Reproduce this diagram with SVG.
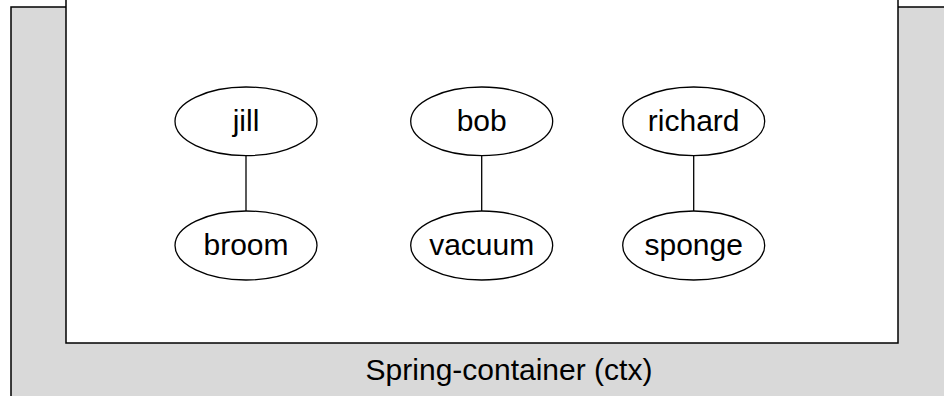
<svg xmlns="http://www.w3.org/2000/svg" width="944" height="396" viewBox="0 0 944 396">
<style>
.node ellipse{fill:#ffffff;stroke:#000000;stroke-width:1.3}
.lbl{font-family:"Liberation Sans",Arial,sans-serif;font-size:30px;fill:#000000;text-anchor:middle}
.edge{stroke:#000000;stroke-width:1.3;fill:none}
</style>
<rect width="944" height="396" fill="#ffffff"/>
<g id="container">
<rect x="11" y="7" width="980" height="420" fill="#d9d9d9" stroke="#000000" stroke-width="1.5"/>
<rect x="66" y="-10" width="832" height="353" fill="#ffffff" stroke="#000000" stroke-width="1.5"/>
<text class="lbl" x="509" y="379.5">Spring-container (ctx)</text>
</g>
<g id="connectors">
<line class="edge" x1="246" y1="155.5" x2="246" y2="211"/>
<line class="edge" x1="481.7" y1="155.5" x2="481.7" y2="211"/>
<line class="edge" x1="693.7" y1="155.5" x2="693.7" y2="211"/>
</g>
<g id="jill" class="node"><ellipse cx="246" cy="121.3" rx="71" ry="34.3"/><text class="lbl" x="246" y="131">jill</text></g>
<g id="broom" class="node"><ellipse cx="246" cy="245.5" rx="71" ry="34.5"/><text class="lbl" x="246" y="255">broom</text></g>
<g id="bob" class="node"><ellipse cx="481.7" cy="121.3" rx="71" ry="34.3"/><text class="lbl" x="481.7" y="131">bob</text></g>
<g id="vacuum" class="node"><ellipse cx="481.7" cy="245.5" rx="71" ry="34.5"/><text class="lbl" x="481.7" y="255">vacuum</text></g>
<g id="richard" class="node"><ellipse cx="693.7" cy="121.3" rx="71" ry="34.3"/><text class="lbl" x="693.7" y="131">richard</text></g>
<g id="sponge" class="node"><ellipse cx="693.7" cy="245.5" rx="71" ry="34.5"/><text class="lbl" x="693.7" y="255">sponge</text></g>
</svg>
